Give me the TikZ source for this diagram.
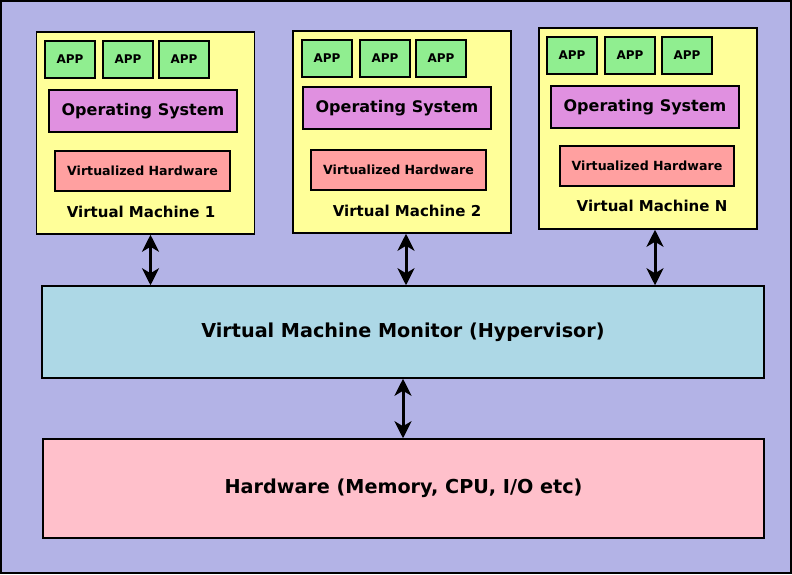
\documentclass[tikz,border=0pt]{standalone}
\usepackage{fontspec}
\setmainfont{DejaVu Sans}
\usepackage{tikz}
\usetikzlibrary{arrows.meta,positioning}

\definecolor{bgblue}{RGB}{179,179,230}
\definecolor{vmyellow}{RGB}{255,255,153}
\definecolor{appgreen}{RGB}{144,238,144}
\definecolor{ospurple}{RGB}{224,144,224}
\definecolor{hwred}{RGB}{255,160,160}
\definecolor{vmmblue}{RGB}{173,216,230}
\definecolor{hwpink}{RGB}{255,192,203}

\begin{document}
\begin{tikzpicture}[x=1pt,y=-1pt,
  vmbox/.style={draw=black,line width=1.5pt,fill=vmyellow,minimum width=218,minimum height=202,inner sep=0},
  appbox/.style={draw=black,line width=1.3pt,fill=appgreen,minimum width=50,minimum height=37,inner sep=0,font=\fontsize{12}{14}\selectfont\bfseries},
  osbox/.style={draw=black,line width=1.3pt,fill=ospurple,minimum width=188,minimum height=42,inner sep=0,font=\fontsize{16}{19}\selectfont\bfseries},
  vhbox/.style={draw=black,line width=1.3pt,fill=hwred,minimum width=175,minimum height=40,inner sep=0,font=\fontsize{12.6}{15}\selectfont\bfseries},
  vmlabel/.style={font=\fontsize{15}{18}\selectfont\bfseries},
  layer/.style={draw=black,line width=1.5pt,minimum width=722,inner sep=0,font=\fontsize{19.2}{23}\selectfont\bfseries},
  link/.style={line width=3pt,{Stealth[length=17pt,width=17pt,inset=5pt]}-{Stealth[length=17pt,width=17pt,inset=5pt]}}]

\useasboundingbox (0,0) rectangle (792,574);
\draw[line width=1.5pt,fill=bgblue] (1,1) rectangle (791,573);

% virtual machine 1
\node[vmbox] (vm1) at (145.5,133) {};
\node[appbox] (app1a) at (70,59.5) {APP};
\node[appbox] (app1b) at (128,59.5) {APP};
\node[appbox] (app1c) at (184,59.5) {APP};
\node[osbox] (os1) at (143,111) {Operating System};
\node[vhbox] (vh1) at (142.5,171) {Virtualized Hardware};
\node[vmlabel] (lbl1) at (141,212) {Virtual Machine 1};

% virtual machine 2
\node[vmbox] (vm2) at (402,132) {};
\node[appbox] (app2a) at (327,58.5) {APP};
\node[appbox] (app2b) at (385,58.5) {APP};
\node[appbox] (app2c) at (441,58.5) {APP};
\node[osbox] (os2) at (397,108) {Operating System};
\node[vhbox] (vh2) at (398.5,170) {Virtualized Hardware};
\node[vmlabel] (lbl2) at (407,211) {Virtual Machine 2};

% virtual machine N
\node[vmbox,minimum height=201] (vmN) at (648,128.5) {};
\node[appbox] (appNa) at (572,55.5) {APP};
\node[appbox] (appNb) at (630,55.5) {APP};
\node[appbox] (appNc) at (687,55.5) {APP};
\node[osbox] (osN) at (645,107) {Operating System};
\node[vhbox,minimum width=174] (vhN) at (647,166) {Virtualized Hardware};
\node[vmlabel] (lblN) at (652,206) {Virtual Machine N};

% hypervisor and hardware
\node[layer,fill=vmmblue,minimum height=92] (vmm) at (403,332) {Virtual Machine Monitor (Hypervisor)};
\node[layer,fill=hwpink,minimum width=721,minimum height=99] (hw) at (403.5,488.5) {Hardware (Memory, CPU, I/O etc)};

\draw[link] ([xshift=5pt]vm1.south) -- ([xshift=5pt]vm1.south |- vmm.north);
\draw[link] ([xshift=4pt]vm2.south) -- ([xshift=4pt]vm2.south |- vmm.north);
\draw[link] ([xshift=7pt]vmN.south) -- ([xshift=7pt]vmN.south |- vmm.north);
\draw[link] (vmm.south) -- (vmm.south |- hw.north);

\end{tikzpicture}
\end{document}
